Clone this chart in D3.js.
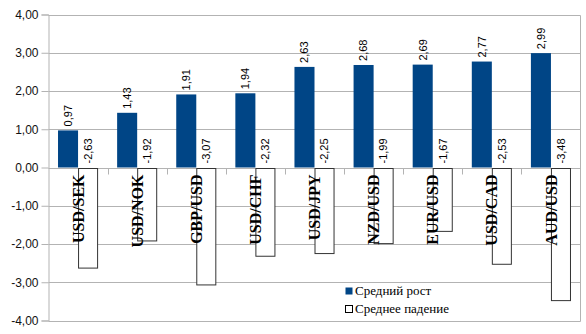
<!DOCTYPE html>
<html>
<head>
<meta charset="utf-8">
<script src="https://cdn.jsdelivr.net/npm/d3@7"></script>
<style>
html,body{margin:0;padding:0;background:#fff;}
svg{display:block;}
</style>
</head>
<body>
<svg id="chart" width="586" height="334"></svg>
<script>
const categories = ["USD/SEK","USD/NOK","GBP/USD","USD/CHF","USD/JPY","NZD/USD","EUR/USD","USD/CAD","AUD/USD"];
const growth = [0.97, 1.43, 1.91, 1.94, 2.63, 2.68, 2.69, 2.77, 2.99];
const decline = [-2.63, -1.92, -3.07, -2.32, -2.25, -1.99, -1.67, -2.53, -3.48];
const seriesNames = ["Средний рост", "Среднее падение"];
const yTicks = [-4, -3, -2, -1, 0, 1, 2, 3, 4];

const svg = d3.select("#chart");
const pLeft = 48.5, pRight = 580.5, pTop = 14.5, pBottom = 320.5;
const fmt = v => d3.format(".2f")(v).replace(".", ",").replace("−", "-");

const x = d3.scaleBand().domain(categories).range([pLeft, pRight]).paddingInner(0).paddingOuter(0);
const x1 = d3.scaleBand().domain(["g","d"]).range([0, x.bandwidth()]).paddingInner(0).paddingOuter(0.475);
const y = d3.scaleLinear().domain([-4, 4]).range([pBottom, pTop]);

// gridlines
svg.append("g").selectAll("line").data(yTicks).join("line")
  .attr("x1", pLeft).attr("x2", pRight)
  .attr("y1", d => Math.round(y(d)) + 0.5).attr("y2", d => Math.round(y(d)) + 0.5)
  .attr("stroke", "#b3b3b3").attr("stroke-width", 1);

// right border
svg.append("line").attr("x1", pRight).attr("x2", pRight).attr("y1", Math.round(y(4))+0.5).attr("y2", Math.round(y(-4))+0.5)
  .attr("stroke", "#b3b3b3");

// y axis
const yAxis = d3.axisLeft(y).tickValues(yTicks).tickFormat(fmt).tickSize(7).tickPadding(3);
const ga = svg.append("g").attr("transform", `translate(${pLeft},0)`).call(yAxis);
ga.select(".domain").attr("stroke", "#b3b3b3");
ga.selectAll(".tick line").attr("stroke", "#b3b3b3");
ga.selectAll(".tick text").attr("fill", "#111").style("font-family", "'Liberation Sans', Arial, sans-serif").style("font-size", "12px");

// x category boundary ticks on zero line
const y0 = Math.round(y(0)) + 0.5;
svg.append("g").selectAll("line").data(categories.slice(1)).join("line")
  .attr("x1", d => Math.round(x(d)) + 0.5).attr("x2", d => Math.round(x(d)) + 0.5)
  .attr("y1", y0).attr("y2", y0 + 6)
  .attr("stroke", "#b3b3b3");

// bars
const groups = svg.append("g").selectAll("g").data(categories).join("g")
  .attr("transform", d => `translate(${x(d)},0)`);

groups.append("rect")
  .attr("x", (d, i) => x1("g"))
  .attr("width", x1.bandwidth())
  .attr("y", (d, i) => y(growth[i]))
  .attr("height", (d, i) => y(0) - y(growth[i]))
  .attr("fill", "#004586");

groups.append("rect")
  .attr("x", (d, i) => x1("d") + 0.5)
  .attr("width", x1.bandwidth() - 1)
  .attr("y", y0)
  .attr("height", (d, i) => y(decline[i]) - y0)
  .attr("fill", "#fff").attr("stroke", "#333").attr("stroke-width", 1);

// value labels
groups.append("text")
  .attr("transform", (d, i) => `translate(${x1("g") + x1.bandwidth()/2},${y(growth[i]) - 4}) rotate(-90)`)
  .attr("dy", "0.35em").attr("text-anchor", "start")
  .style("font-family", "'Liberation Sans', Arial, sans-serif").style("font-size", "11px").attr("fill", "#000")
  .text((d, i) => fmt(growth[i]));

groups.append("text")
  .attr("transform", (d, i) => `translate(${x1("d") + x1.bandwidth()/2},${y(0) - 4}) rotate(-90)`)
  .attr("dy", "0.35em").attr("text-anchor", "start")
  .style("font-family", "'Liberation Sans', Arial, sans-serif").style("font-size", "11px").attr("fill", "#000")
  .text((d, i) => fmt(decline[i]));

// category labels
groups.append("text")
  .attr("transform", d => `translate(${x.bandwidth()/2},${y(0) + 7}) rotate(-90)`)
  .attr("dy", "0.35em").attr("text-anchor", "end")
  .style("font-family", "'Liberation Serif', 'Times New Roman', serif").style("font-size", "16px").style("font-weight", "bold")
  .attr("fill", "#000")
  .text(d => d);

// legend
const legend = svg.append("g").attr("transform", "translate(345,0)");
const rows = [{name: seriesNames[0], fill: "#004586", stroke: "none", cy: 290},
              {name: seriesNames[1], fill: "#fff", stroke: "#000", cy: 308.5}];
rows.forEach(r => {
  legend.append("rect").attr("x", 0.5).attr("y", Math.round(r.cy - 3.5) + 0.5).attr("width", 7).attr("height", 7)
    .attr("fill", r.fill).attr("stroke", r.stroke);
  legend.append("text").attr("x", 10).attr("y", r.cy).attr("dy", "0.35em")
    .style("font-family", "'Liberation Serif', 'Times New Roman', serif").style("font-size", "13px")
    .attr("fill", "#000").text(r.name);
});
</script>
</body>
</html>
